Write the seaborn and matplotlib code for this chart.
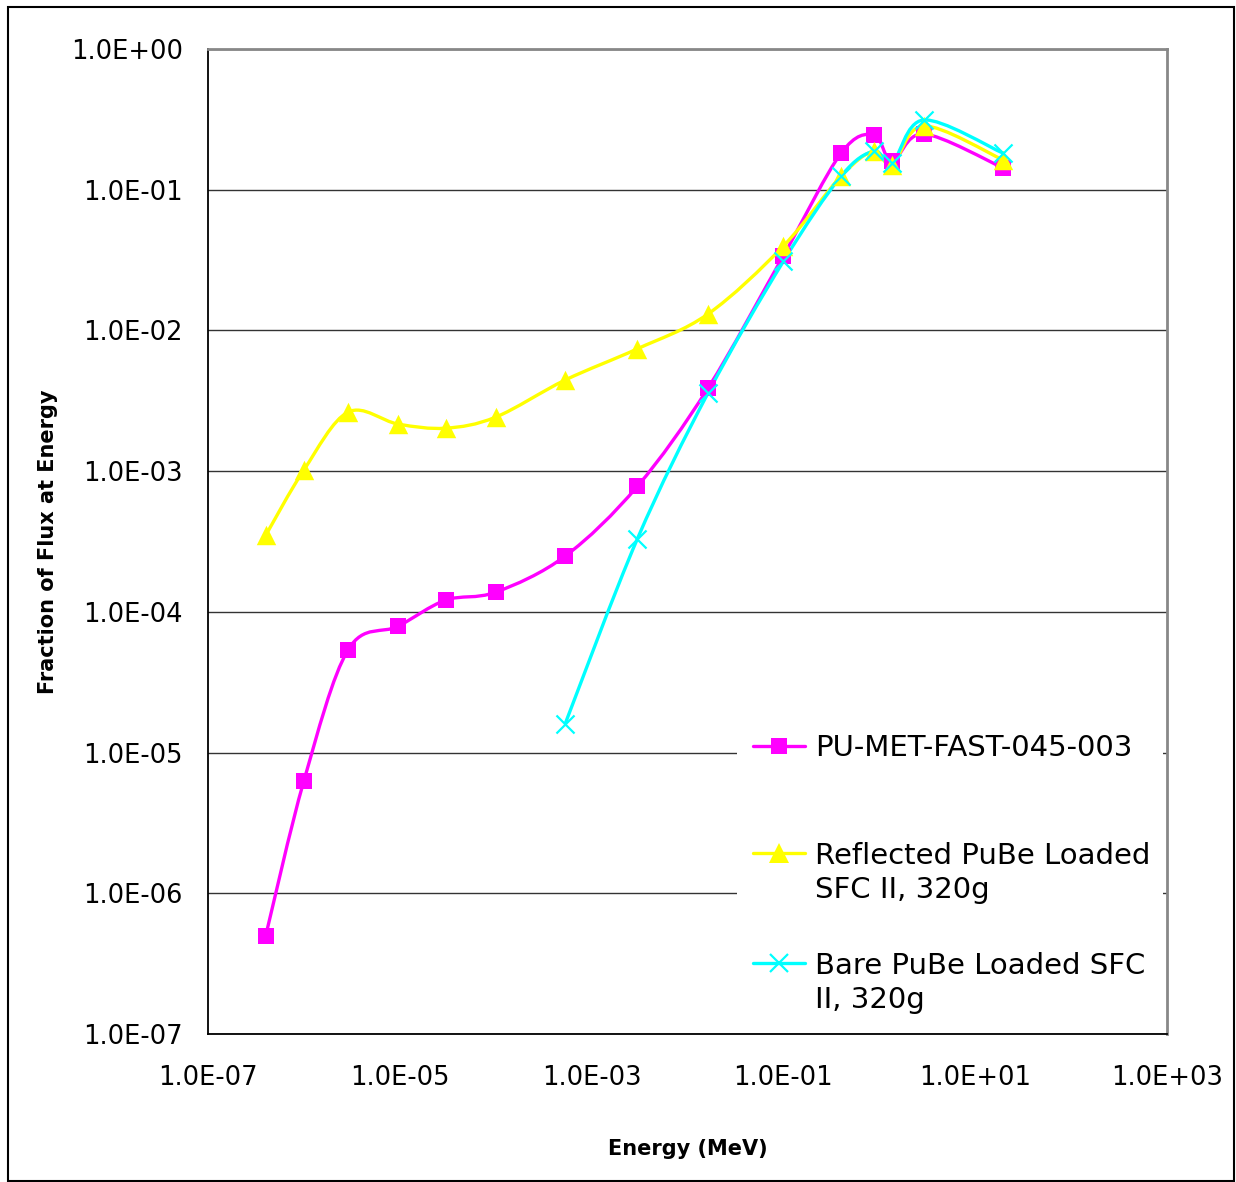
"""plot.py

Recreates the neutron flux spectrum comparison chart (log-log).
"""

import matplotlib as mpl
import matplotlib.pyplot as plt
import matplotlib.patches as mpatches
from matplotlib.path import Path
import numpy as np
import pandas as pd
import seaborn as sns

# Data
energy_pu = [4.0e-7, 1.0e-6, 2.9e-6, 9.6e-6, 3.0e-5, 1.0e-4, 5.3e-4, 3.0e-3,
             1.64e-2, 0.10, 0.40, 0.88, 1.36, 2.9, 19.5]
flux_pu = [5.0e-7, 6.3e-6, 5.4e-5, 7.9e-5, 1.21e-4, 1.38e-4, 2.49e-4, 7.8e-4,
           3.9e-3, 3.4e-2, 0.182, 0.245, 0.160, 0.249, 0.143]

energy_refl = energy_pu
flux_refl = [3.5e-4, 1.02e-3, 2.63e-3, 2.16e-3, 2.02e-3, 2.42e-3, 4.44e-3, 7.4e-3,
             1.31e-2, 3.98e-2, 0.125, 0.188, 0.150, 0.284, 0.163]

energy_bare = [5.3e-4, 3.0e-3, 1.64e-2, 0.10, 0.40, 0.88, 1.36, 2.9, 19.5]
flux_bare = [1.6e-5, 3.3e-4, 3.6e-3, 3.1e-2, 0.125, 0.188, 0.155, 0.313, 0.182]

labels = ['PU-MET-FAST-045-003',
          'Reflected PuBe Loaded\nSFC II, 320g',
          'Bare PuBe Loaded SFC\nII, 320g']
colours = {'pu': '#FF00FF', 'refl': '#FFFF00', 'bare': '#00FFFF'}

x_ticks = [1e-7, 1e-5, 1e-3, 1e-1, 1e1, 1e3]
y_ticks = [1e-7, 1e-6, 1e-5, 1e-4, 1e-3, 1e-2, 1e-1, 1e0]


def _smooth_path(x, y):
    """Excel-style smoothed line as cubic Bezier segments in log space."""
    lx, ly = np.log10(x), np.log10(y)
    n = len(lx)
    verts = [(lx[0], ly[0])]
    codes = [Path.MOVETO]
    for i in range(n - 1):
        p0 = (lx[max(i - 1, 0)], ly[max(i - 1, 0)])
        p1 = (lx[i], ly[i])
        p2 = (lx[i + 1], ly[i + 1])
        p3 = (lx[min(i + 2, n - 1)], ly[min(i + 2, n - 1)])
        c1 = (p1[0] + (p2[0] - p0[0]) / 6, p1[1] + (p2[1] - p0[1]) / 6)
        c2 = (p2[0] - (p3[0] - p1[0]) / 6, p2[1] - (p3[1] - p1[1]) / 6)
        verts += [c1, c2, p2]
        codes += [Path.CURVE4] * 3
    verts = [(10 ** a, 10 ** b) for a, b in verts]
    return Path(verts, codes)


sns.set_style('white')
plt.rcParams['font.family'] = ['DejaVu Sans']
plt.rcParams['text.color'] = 'black'
plt.rcParams['axes.labelcolor'] = 'black'
plt.rcParams['xtick.color'] = 'black'
plt.rcParams['ytick.color'] = 'black'

fig = plt.figure(figsize=(12.36, 11.82), dpi=100)
ax = fig.add_axes([208 / 1236, 1 - 1034 / 1182, 959 / 1236, 985 / 1182])

series = [
    ('pu', energy_pu, flux_pu, 's', 12),
    ('refl', energy_refl, flux_refl, '^', 14),
    ('bare', energy_bare, flux_bare, 'x', 13),
]

# Smoothed lines
for key, e, f, marker, size in series:
    patch = mpatches.PathPatch(_smooth_path(e, f), fill=False,
                               edgecolor=colours[key], linewidth=2.4, zorder=3)
    ax.add_patch(patch)

# Markers
for key, e, f, marker, size in series:
    df = pd.DataFrame({'energy': e, 'flux': f})
    sns.scatterplot(data=df, x='energy', y='flux', marker=marker, s=size ** 2,
                    color=colours[key], edgecolor=colours[key] if marker != 'x' else None,
                    linewidth=1.6 if marker == 'x' else 0, ax=ax, zorder=4,
                    legend=False)

ax.set_xscale('log')
ax.set_yscale('log')
ax.set_xlim(1e-7, 1e3)
ax.set_ylim(1e-7, 1e0)

ax.set_xticks(x_ticks)
ax.set_xticklabels(['%.1E' % t for t in x_ticks])
ax.set_yticks(y_ticks)
ax.set_yticklabels(['%.1E' % t for t in y_ticks])
ax.xaxis.set_minor_locator(mpl.ticker.NullLocator())
ax.yaxis.set_minor_locator(mpl.ticker.NullLocator())
ax.tick_params(axis='both', which='major', labelsize=18.5, length=8,
               width=1.2, color='black', labelcolor='black', direction='out', pad=10)
ax.tick_params(axis='x', pad=14)

ax.yaxis.grid(True, color='#333333', linewidth=1.0)
ax.set_axisbelow(True)

for side in ['left', 'bottom']:
    ax.spines[side].set_color('black')
    ax.spines[side].set_linewidth(1.3)
for side in ['top', 'right']:
    ax.spines[side].set_color('#888888')
    ax.spines[side].set_linewidth(2.0)

ax.set_xlabel('Energy (MeV)', fontsize=15, fontweight='bold', labelpad=35, color='black')
ax.set_ylabel('Fraction of Flux at Energy', fontsize=15, fontweight='bold', labelpad=9,
              color='black')

# Legend drawn by hand (Excel puts the key on the first line of each label)
ax_w, ax_h = 959, 985
line_step = 34


def _ax_xy(px, py):
    return (px - 208) / ax_w, (1034 - py) / ax_h


x0, y0 = _ax_xy(737, 1025)
x1, y1 = _ax_xy(1163, 716)
ax.add_patch(mpatches.Rectangle((x0, y0), x1 - x0, y1 - y0, transform=ax.transAxes,
                                facecolor='white', edgecolor='none', zorder=2))

legend_rows = [746, 853, 963]
legend_markers = [('s', 12, 0), ('^', 14, 0), ('x', 13, 1.6)]
for key, label, row, (marker, size, mew) in zip(['pu', 'refl', 'bare'], labels,
                                                  legend_rows, legend_markers):
    hx0, hy = _ax_xy(753, row)
    hx1, _ = _ax_xy(805, row)
    ax.plot([hx0, (hx0 + hx1) / 2, hx1], [hy, hy, hy], transform=ax.transAxes,
            color=colours[key], linewidth=2.4, marker=marker, markersize=size,
            markeredgewidth=mew, markevery=[1], zorder=5, clip_on=False)
    # multi-line text is placed by the baseline of its last line
    n_extra = label.count('\n')
    tx, ty = _ax_xy(815, row + 10.5 + n_extra * line_step)
    ax.text(tx, ty, label, transform=ax.transAxes, fontsize=21, va='baseline',
            ha='left', linespacing=1.27, zorder=5, color='black')

# Outer chart border
fig.patches.append(mpatches.Rectangle((8 / 1236, 1 / 1182), 1226 / 1236, 1174 / 1182,
                                      transform=fig.transFigure, fill=False,
                                      edgecolor='black', linewidth=1.5))

fig.savefig('out.png', dpi=100)
